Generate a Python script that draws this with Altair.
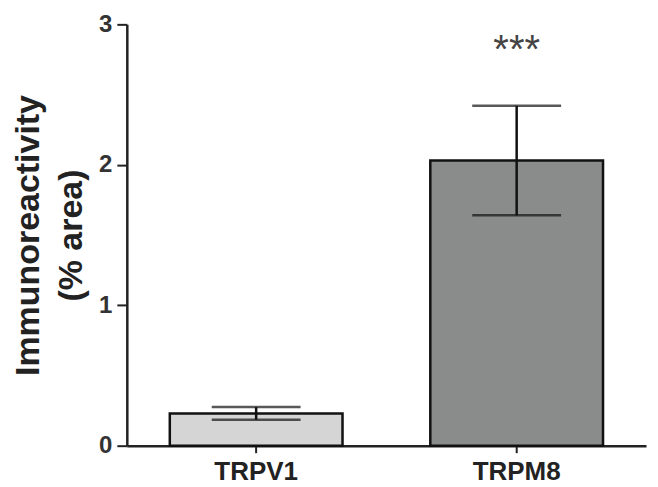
import altair as alt
import pandas as pd

groups = ["TRPV1", "TRPM8"]
means = [0.23, 2.03]
sems = [0.045, 0.39]
fills = ["#d5d5d5", "#8a8c8b"]
sig = ["", "***"]
sig_y = [None, 2.81]

df = pd.DataFrame({
    "group": groups,
    "mean": means,
    "lo": [m - s for m, s in zip(means, sems)],
    "hi": [m + s for m, s in zip(means, sems)],
    "fill": fills,
    "sig": sig,
    "sig_y": sig_y,
})

xenc = alt.X("group:N", sort=groups,
             scale=alt.Scale(paddingInner=0.337, paddingOuter=0.165),
             axis=alt.Axis(title=None, labelAngle=0, labelFont="Liberation Sans",
                           labelFontSize=26, labelFontWeight="bold", labelColor="#222",
                           domainColor="#222", domainWidth=2.5, tickColor="#222",
                           tickWidth=2, tickSize=7, labelPadding=6))

bars = alt.Chart(df).mark_bar(stroke="#111", strokeWidth=2.5).encode(
    x=xenc,
    y=alt.Y("mean:Q", scale=alt.Scale(domain=[0, 3], nice=False),
            axis=alt.Axis(values=[0, 1, 2, 3], format="d",
                          title=["Immunoreactivity", "(% area)"],
                          titleFont="Liberation Sans", titleFontSize=34,
                          titleFontWeight="bold", titleColor="#222",
                          titlePadding=10, titleLineHeight=43,
                          labelFont="Liberation Sans", labelFontSize=24,
                          labelFontWeight="bold", labelColor="#333",
                          labelPadding=5,
                          domainColor="#222", domainWidth=2.5, tickColor="#222",
                          tickWidth=2, tickSize=10, grid=False)),
    fill=alt.Fill("fill:N", scale=None),
)

rule = alt.Chart(df).mark_rule(color="#111", strokeWidth=2.5).encode(
    x=alt.X("group:N", sort=groups), y="lo:Q", y2="hi:Q")

cap_hi = alt.Chart(df).mark_tick(color="#111", thickness=2.5, size=89, orient="horizontal").encode(
    x=alt.X("group:N", sort=groups), y="hi:Q")
cap_lo = alt.Chart(df).mark_tick(color="#111", thickness=2.5, size=89, orient="horizontal").encode(
    x=alt.X("group:N", sort=groups), y="lo:Q")

stars = alt.Chart(df).transform_filter("datum.sig != ''").mark_text(
    font="Liberation Sans", fontSize=40, color="#444", baseline="middle").encode(
    x=alt.X("group:N", sort=groups), y="sig_y:Q", text="sig:N")

chart = alt.layer(bars, rule, cap_hi, cap_lo, stars).properties(
    width=520, height=422,
    autosize=alt.AutoSizeParams(type="none"),
    padding={"left": 119, "top": 16, "right": 4, "bottom": 41},
).configure_view(stroke=None)

chart.save("out.html", embed_options={"renderer": "svg", "actions": False})
